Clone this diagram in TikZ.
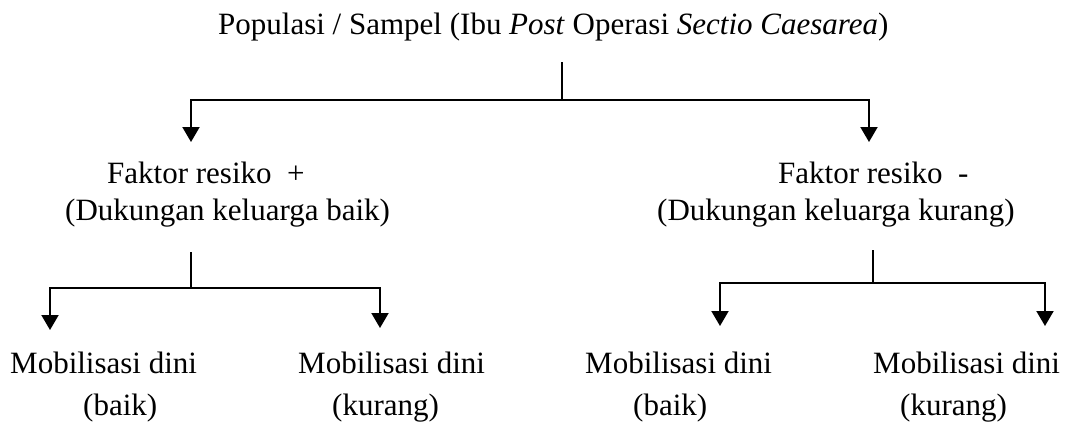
\documentclass[tikz,border=0pt]{standalone}
\usepackage{fontspec}
\setmainfont{Liberation Serif}
\usetikzlibrary{arrows.meta}
\begin{document}
\begin{tikzpicture}[x=1pt,y=-1pt,
  lbl/.style={inner sep=0pt,anchor=base west,font=\fontsize{31}{37}\selectfont},
  conn/.style={line width=2pt},
  arr/.style={line width=2pt,-{Triangle[length=15pt,width=17pt]}}]
\useasboundingbox (0,0) rectangle (1071,421);
% texts
\node[lbl] (top) at (218,34) {Populasi / Sampel (Ibu \textit{Post} Operasi \textit{Sectio Caesarea})};
\node[lbl] (fl1) at (107,183) {Faktor resiko \ +};
\node[lbl] (fl2) at (65,220) {(Dukungan keluarga baik)};
\node[lbl] (fr1) at (778,183) {Faktor resiko \ -};
\node[lbl] (fr2) at (657,220) {(Dukungan keluarga kurang)};
\node[lbl] (m1) at (10,373) {Mobilisasi dini};
\node[lbl] (m1b) at (83,415) {(baik)};
\node[lbl] (m2) at (298,373) {Mobilisasi dini};
\node[lbl] (m2b) at (332,415) {(kurang)};
\node[lbl] (m3) at (585,373) {Mobilisasi dini};
\node[lbl] (m3b) at (633,415) {(baik)};
\node[lbl] (m4) at (873,373) {Mobilisasi dini};
\node[lbl] (m4b) at (900,415) {(kurang)};
% junction coordinates
\coordinate (t0) at (562,62);
\coordinate (t1) at (562,100);
\coordinate (tl) at (191,100);
\coordinate (tr) at (869,100);
\coordinate (tla) at (191,142);
\coordinate (tra) at (869,142);
\coordinate (l0) at (191,252);
\coordinate (l1) at (191,288);
\coordinate (ll) at (50,288);
\coordinate (lr) at (380,288);
\coordinate (lla) at (50,330);
\coordinate (lra) at (380,328);
\coordinate (r0) at (873,250);
\coordinate (r1) at (873,283);
\coordinate (rl) at (720,283);
\coordinate (rr) at (1045,283);
\coordinate (rla) at (720,326);
\coordinate (rra) at (1045,326);
% connectors
\draw[conn] (t0) -- (t1);
\draw[arr] (t1) -- (tl) -- (tla);
\draw[arr] (t1) -- (tr) -- (tra);
\draw[conn] (l0) -- (l1);
\draw[arr] (l1) -- (ll) -- (lla);
\draw[arr] (l1) -- (lr) -- (lra);
\draw[conn] (r0) -- (r1);
\draw[arr] (r1) -- (rl) -- (rla);
\draw[arr] (r1) -- (rr) -- (rra);
\end{tikzpicture}
\end{document}
